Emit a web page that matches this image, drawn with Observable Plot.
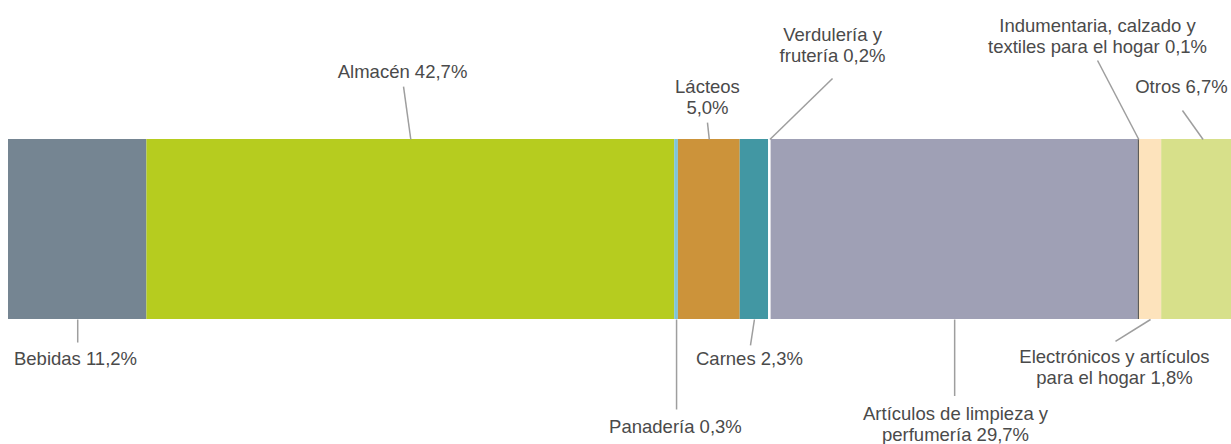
<!DOCTYPE html>
<html>
<head>
<meta charset="utf-8">
<script src="https://cdn.jsdelivr.net/npm/d3@7"></script>
<script src="https://cdn.jsdelivr.net/npm/@observablehq/plot@0.6"></script>
<style>
  html, body { margin: 0; padding: 0; background: #ffffff; }
  #chart { width: 1231px; height: 444px; overflow: hidden; }
</style>
</head>
<body>
<div id="chart"></div>
<script>
// Categories and their share (%) of the total
const categories = [
  "Bebidas", "Almacén", "Panadería", "Lácteos", "Carnes",
  "Verdulería y frutería", "Artículos de limpieza y perfumería",
  "Indumentaria, calzado y textiles para el hogar",
  "Electrónicos y artículos para el hogar", "Otros"
];
const shares = [11.2, 42.7, 0.3, 5.0, 2.3, 0.2, 29.7, 0.1, 1.8, 6.7];
const labelTexts = [
  "Bebidas 11,2%", "Almacén 42,7%", "Panadería 0,3%", "Lácteos\n5,0%",
  "Carnes 2,3%", "Verdulería y\nfrutería 0,2%",
  "Artículos de limpieza y\nperfumería 29,7%",
  "Indumentaria, calzado y\ntextiles para el hogar 0,1%",
  "Electrónicos y artículos\npara el hogar 1,8%", "Otros 6,7%"
];
const colors = [
  "#758592", "#b6cc1f", "#7fc4d8", "#cc933a", "#4297a3",
  "#ffffff", "#9fa0b5", "#4a4a4a", "#fde3bc", "#d7e08a"
];

// Annotation layout (x in %, y in bar units: 0 = bar bottom, 1 = bar top)
const labelSide  = ["bottom","top","bottom","top","bottom","top","bottom","top","bottom","top"];
const labelX     = [5.42, 31.88, 53.96, 56.55, 59.95, 66.67, 76.62, 88.11, 89.48, 94.90];
const labelY     = [-0.25, 1.339, -0.628, 1.144, -0.25, 1.433, -0.675, 1.483, -0.361, 1.261];
const leaderEndX = [null, 31.96, null, 56.55, 60.03, 66.67, null, 88.11, 89.56, 94.98];
const leaderEndY = [-0.128, 1.294, -0.5, 1.094, -0.144, 1.339, -0.425, 1.439, -0.122, 1.161];

const ends = d3.cumsum(shares);
const rows = categories.map((c, i) => {
  const start = ends[i] - shares[i];
  const mid = start + shares[i] / 2;
  return {
    category: c,
    share: shares[i],
    start, end: ends[i], mid,
    label: labelTexts[i],
    edge: labelSide[i] === "top" ? 1 : 0,
    tx: labelX[i], ty: labelY[i],
    lx: leaderEndX[i] == null ? mid : leaderEndX[i],
    ly: leaderEndY[i]
  };
});

const chart = Plot.plot({
  width: 1231,
  height: 444,
  marginTop: 0, marginRight: 0, marginBottom: 0, marginLeft: 0,
  style: { background: "#ffffff", fontFamily: "'Liberation Sans', Arial, sans-serif" },
  x: { domain: [0, 100], range: [8, 1244], axis: null },
  y: { domain: [0, 1], range: [319, 139], axis: null },
  color: { domain: categories, range: colors },
  marks: [
    Plot.rectX(rows, { x1: "start", x2: "end", y1: 0, y2: 1, fill: "category" }),
    Plot.link(rows, {
      x1: "mid", y1: "edge", x2: "lx", y2: "ly",
      stroke: "#9e9e9e", strokeWidth: 1.5
    }),
    Plot.text(rows, {
      x: "tx", y: "ty", text: "label",
      lineAnchor: "bottom", textAnchor: "middle",
      fontSize: 18.5, lineHeight: 1.135,
      fill: "#4a4a4a",
      fontFamily: "'Liberation Sans', Arial, sans-serif"
    })
  ]
});
document.getElementById("chart").appendChild(chart);
</script>
</body>
</html>
